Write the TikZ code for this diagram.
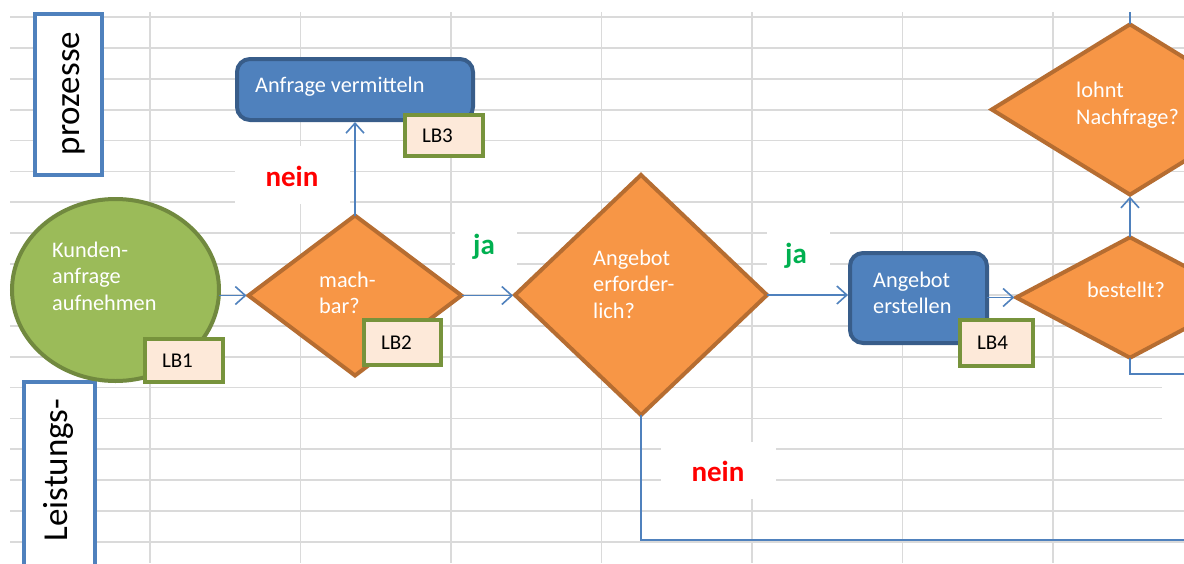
\documentclass[tikz,border=0pt]{standalone}
\usepackage{fontspec}
\setmainfont{Carlito}
\usetikzlibrary{shapes.geometric,arrows.meta}

\definecolor{gridgray}{HTML}{DADADA}
\definecolor{lineblue}{HTML}{4F81BD}
\definecolor{blueedge}{HTML}{385D8A}
\definecolor{orangefill}{HTML}{F79646}
\definecolor{orangeedge}{HTML}{B66D31}
\definecolor{greenfill}{HTML}{9BBB59}
\definecolor{greenedge}{HTML}{71893F}
\definecolor{lbfill}{HTML}{FDE9D9}
\definecolor{lbedge}{HTML}{77933C}
\definecolor{yesgreen}{HTML}{00B050}
\definecolor{nored}{HTML}{FF0000}

\newcommand\shapefont{\fontsize{22.3}{26.5}\selectfont}
\newcommand\lbfont{\fontsize{21}{24}\selectfont}
\newcommand\answerfont{\fontsize{29}{32}\selectfont\bfseries}
\newcommand\lanefont{\fontsize{35}{38}\selectfont}

\tikzset{
  gridline/.style={draw=gridgray, line width=1.8pt},
  decision/.style={diamond, draw=orangeedge, fill=orangefill, line width=4pt,
    inner sep=0pt, outer sep=0pt},
  process/.style={rectangle, rounded corners=13pt, draw=blueedge, fill=lineblue,
    line width=4pt, inner sep=0pt, outer sep=0pt},
  startshape/.style={ellipse, draw=greenedge, fill=greenfill, line width=4pt,
    inner sep=0pt, outer sep=0pt},
  lbbox/.style={rectangle, draw=lbedge, fill=lbfill, line width=4.5pt,
    inner ysep=0pt, inner xsep=17pt, align=left, font=\lbfont, text=black,
    outer sep=0pt},
  lanebox/.style={rectangle, draw=lineblue, fill=white, line width=4pt, inner sep=0pt},
  lanetext/.style={rotate=90, font=\lanefont, text=black, inner sep=0pt},
  shapetext/.style={font=\shapefont, text=white, align=left, inner sep=0pt, anchor=west},
  flow/.style={draw=lineblue, line width=1.6pt, shorten >=2pt,
    -{Straight Barb[length=10pt,width=18pt,line width=1.6pt]}},
  link/.style={draw=lineblue, line width=1.6pt},
  answerbox/.style={fill=white, inner sep=0pt},
  yes/.style={text=yesgreen, font=\answerfont, inner sep=0pt},
  no/.style={text=nored, font=\answerfont, inner sep=0pt},
}

\begin{document}
\begin{tikzpicture}[x=1pt, y=-1pt]
\useasboundingbox (0,0) rectangle (1184,563);
\clip (0,0) rectangle (1184,563);
\fill[white] (0,0) rectangle (1184,563);

% sheet grid
\foreach \k in {0,...,6}
  \draw[gridline] ({150+150.5*\k},12) -- ({150+150.5*\k},563);
\foreach \k in {0,...,17}
  \draw[gridline] (10,{17+30.88*\k}) -- (1184,{17+30.88*\k});

% answer cells
\node[answerbox, minimum width=115pt, minimum height=58pt] (noA) at (292.5,175) {};
\node[answerbox, minimum width=62pt, minimum height=66pt] (yesA) at (486,246) {};
\node[answerbox, minimum width=63pt, minimum height=66pt] (yesB) at (798.5,252) {};
\node[answerbox, minimum width=115pt, minimum height=57pt] (noB) at (718.5,470.5) {};
\node[answerbox, minimum width=68pt, minimum height=74pt] (yesCbox) at (1196,406) {};

% swimlane headers
\node[lanebox, minimum width=67pt, minimum height=161pt] (laneA) at (68.5,94.5) {};
\node[lanetext] (laneAtext) at (73.5,93.5) {prozesse};
\node[lanebox, minimum width=71pt, minimum height=238pt] (laneB) at (59.5,501) {};
\node[lanetext] (laneBtext) at (58,470) {Leistungs-};

% shapes
\node[startshape, minimum width=207pt, minimum height=182pt] (ask) at (115.5,290) {};
\node[decision, minimum width=213pt, minimum height=160pt] (mach) at (355,295.5) {};
\node[process, minimum width=236pt, minimum height=61pt] (anf) at (355,89.5) {};
\node[decision, minimum width=252pt, minimum height=240pt] (ang) at (641,295) {};
\node[process, minimum width=137pt, minimum height=90pt] (ers) at (918.5,298) {};
\node[decision, minimum width=227.5pt, minimum height=120.5pt] (best) at (1130,297.5) {};
\node[decision, minimum width=276.4pt, minimum height=170.3pt] (lohnt) at (1130,109.5) {};

% connectors
\draw[flow] (ask.east |- mach.west) -- (mach.west);
\draw[flow] (mach.north) -- (anf.south);
\draw[flow] (mach.east) -- (mach.east -| ang.west);
\draw[flow] (ang.east) -- (ang.east -| ers.west);
\draw[flow] (ers.east |- best.west) -- (best.west);
\draw[flow] (best.north) -- (lohnt.south);
\coordinate (topend) at (1130,12);
\draw[link] (lohnt.north) -- (topend);
\coordinate (bestout) at (1200,374);
\draw[link] (best.south) |- (bestout);
\coordinate (angout) at (1200,540);
\draw[link] (ang.south) |- (angout);

% shape texts
\node[shapetext] (askT) at (52,276) {Kunden-\\anfrage\\aufnehmen};
\node[shapetext] (machT) at (319,293) {mach-\\bar?};
\node[shapetext] (anfT) at (255,87) {Anfrage vermitteln};
\node[shapetext] (angT) at (593,284) {Angebot\\erforder-\\lich?};
\node[shapetext] (ersT) at (873,293) {Angebot\\erstellen};
\node[shapetext] (bestT) at (1087,290) {bestellt?};
\node[shapetext] (lohntT) at (1076,105) {lohnt\\Nachfrage?};

% activity labels
\node[lbbox, minimum width=78pt, minimum height=43pt, text width=44pt] (lb1) at (184,360.5) {LB1};
\node[lbbox, minimum width=77pt, minimum height=45pt, text width=43pt] (lb2) at (402.5,342.5) {LB2};
\node[lbbox, minimum width=78pt, minimum height=41pt, text width=44pt] (lb3) at (444,135.5) {LB3};
\node[lbbox, minimum width=73pt, minimum height=46pt, text width=39pt] (lb4) at (996.5,343) {LB4};

% answers
\node[no] (noAT) at (292,176) {nein};
\node[yes] (yesAT) at (484,247) {ja};
\node[yes] (yesBT) at (796,256) {ja};
\node[no] (noBT) at (718,471) {nein};
\node[yes] (yesCT) at (1196,412) {ja};
\end{tikzpicture}
\end{document}
